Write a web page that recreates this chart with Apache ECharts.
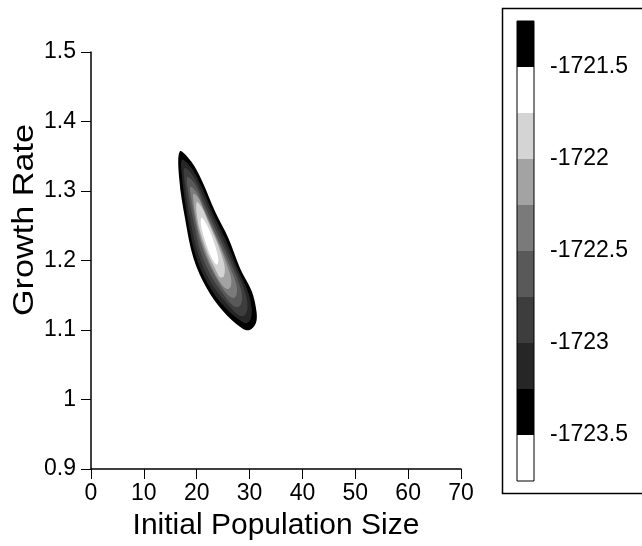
<!DOCTYPE html>
<html>
<head>
<meta charset="utf-8">
<script src="https://cdn.jsdelivr.net/npm/echarts@6/dist/echarts.min.js"></script>
<style>html,body{margin:0;padding:0;background:#fff;}#c{width:642px;height:546px;}</style>
</head>
<body>
<div id="c"></div>
<script>
// ---- Data ----
const xTitle = 'Initial Population Size';
const yTitle = 'Growth Rate';
// contour levels (outer -> inner)
const levels = [-1723.5, -1723.25, -1723, -1722.75, -1722.5, -1722.25, -1722, -1721.75];
// contour outlines [initial population size, growth rate]
const c_1723_50 = [[16.8,1.357],[19.0,1.342],[21.1,1.313],[23.5,1.270],[26.0,1.232],[28.2,1.189],[30.4,1.156],[31.3,1.127],[31.2,1.110],[30.0,1.100],[28.5,1.103],[25.0,1.127],[21.9,1.160],[19.4,1.203],[17.8,1.260],[16.7,1.317]];
const c_1723_25 = [[17.2,1.345],[19.0,1.333],[20.9,1.306],[23.2,1.266],[25.6,1.228],[27.8,1.187],[29.7,1.155],[30.4,1.130],[30.1,1.114],[29.0,1.110],[25.3,1.133],[22.2,1.165],[19.8,1.207],[18.3,1.260],[17.3,1.315]];
const c_1723_00 = [[17.7,1.333],[19.3,1.322],[21.0,1.296],[23.1,1.260],[25.3,1.224],[27.3,1.189],[29.0,1.158],[29.6,1.137],[29.2,1.122],[28.0,1.121],[25.4,1.141],[22.6,1.169],[20.3,1.209],[18.8,1.258],[17.8,1.307]];
const c_1722_75 = [[18.2,1.320],[19.6,1.311],[21.1,1.286],[23.0,1.254],[25.0,1.221],[26.8,1.190],[28.2,1.163],[28.6,1.146],[28.1,1.134],[26.9,1.135],[24.9,1.153],[22.8,1.177],[20.8,1.211],[19.4,1.256],[18.4,1.298]];
const c_1722_50 = [[18.8,1.306],[20.0,1.298],[21.3,1.276],[22.9,1.249],[24.6,1.220],[26.2,1.192],[27.4,1.168],[27.6,1.153],[27.0,1.146],[25.8,1.151],[24.2,1.168],[22.5,1.192],[20.9,1.222],[19.8,1.255],[19.0,1.288]];
const c_1722_25 = [[19.4,1.296],[20.4,1.289],[21.6,1.268],[23.0,1.244],[24.5,1.218],[25.7,1.194],[26.5,1.174],[26.4,1.162],[25.7,1.159],[24.5,1.168],[23.0,1.188],[21.6,1.213],[20.4,1.242],[19.7,1.268],[19.4,1.285]];
const c_1722_00 = [[20.0,1.284],[21.0,1.276],[22.1,1.257],[23.4,1.234],[24.6,1.210],[25.3,1.190],[25.1,1.177],[24.4,1.176],[23.4,1.190],[22.0,1.212],[20.8,1.238],[20.1,1.262]];
const c_1721_75 = [[20.9,1.262],[21.8,1.253],[22.8,1.236],[23.7,1.216],[24.1,1.200],[23.8,1.194],[23.1,1.200],[22.1,1.217],[21.2,1.238],[20.8,1.252]];
const contours = [c_1723_50, c_1723_25, c_1723_00, c_1722_75, c_1722_50, c_1722_25, c_1722_00, c_1721_75];
// colour bar
const barBounds = [-1723.75, -1723.5, -1723.25, -1723, -1722.75, -1722.5, -1722.25, -1722, -1721.75, -1721.5, -1721.25];
const barColors = ['#ffffff', '#000000', '#262626', '#3d3d3d', '#595959', '#7a7a7a', '#a3a3a3', '#d4d4d4', '#ffffff', '#000000'];
const barTickLabels = [-1723.5, -1723, -1722.5, -1722, -1721.5];

// ---- Chart ----
const FONT = '"Liberation Sans", Arial, Helvetica, sans-serif';
function colorForLevel(l) {
  for (let i = 0; i < barColors.length; i++) {
    if (Math.abs(barBounds[i] - l) < 1e-9) return barColors[i];
  }
  return '#000';
}
const chart = echarts.init(document.getElementById('c'), null, {renderer: 'canvas'});
const option = {
  backgroundColor: '#fff',
  animation: false,
  grid: [
    {left: 91, right: 181, top: 52, bottom: 73.5, containLabel: false},
    {left: 517, width: 17, top: 21, bottom: 65, containLabel: false}
  ],
  xAxis: [
    {
      gridIndex: 0, type: 'value', min: 0, max: 70, interval: 10,
      name: xTitle, nameLocation: 'middle', nameGap: 42,
      nameTextStyle: {fontFamily: FONT, fontSize: 30, color: '#000'},
      axisLine: {show: true, onZero: false, lineStyle: {color: '#000', width: 1.5}},
      axisTick: {show: true, inside: false, length: 10, lineStyle: {color: '#000', width: 1}},
      axisLabel: {fontFamily: FONT, fontSize: 23, color: '#000', margin: 13},
      splitLine: {show: false}
    },
    {gridIndex: 1, type: 'value', min: 0, max: 1, show: false}
  ],
  yAxis: [
    {
      gridIndex: 0, type: 'value', min: 0.9, max: 1.5, interval: 0.1,
      axisLine: {show: true, onZero: false, lineStyle: {color: '#000', width: 1.5}},
      axisTick: {show: true, inside: false, length: 10, lineStyle: {color: '#000', width: 1}},
      axisLabel: {fontFamily: FONT, fontSize: 23, color: '#000', margin: 15,
        formatter: v => String(Math.round(v * 10) / 10)},
      splitLine: {show: false}
    },
    {
      gridIndex: 1, type: 'value', position: 'right',
      min: barBounds[0], max: barBounds[barBounds.length - 1], interval: 0.25,
      axisLine: {show: false}, axisTick: {show: false}, splitLine: {show: false},
      axisLabel: {
        fontFamily: FONT, fontSize: 23, color: '#000', margin: 16,
        padding: [6, 0, 0, 0],
        showMinLabel: true, showMaxLabel: true,
        formatter: v => {
          for (const t of barTickLabels) if (Math.abs(t - v) < 1e-6) return String(t);
          return '';
        }
      }
    }
  ],
  graphic: [
    {type: 'rect', shape: {x: 502.5, y: 8.5, width: 300, height: 485}, style: {fill: 'none', stroke: '#000', lineWidth: 1.5}, z: 0},
    {type: 'text', x: 25, y: 220, rotation: Math.PI / 2, scaleX: 1.18,
     style: {text: yTitle, font: '29px ' + FONT, fill: '#000', align: 'center', verticalAlign: 'middle'}}
  ],
  series: [
    {
      type: 'custom', xAxisIndex: 0, yAxisIndex: 0, clip: false,
      data: levels.map((l, i) => [i]),
      encode: {x: 0},
      renderItem: function (params, api) {
        const i = params.dataIndex;
        const pts = contours[i].map(p => api.coord(p));
        return {type: 'polygon', shape: {points: pts, smooth: 0.35},
          style: {fill: colorForLevel(levels[i]), stroke: null}};
      }
    },
    {
      type: 'custom', xAxisIndex: 1, yAxisIndex: 1, clip: false,
      data: barColors.map((c, i) => [0, barBounds[i], barBounds[i + 1]]),
      encode: {x: 0, y: [1, 2]},
      renderItem: function (params, api) {
        const i = params.dataIndex;
        const p1 = api.coord([0, barBounds[i + 1]]);
        const p2 = api.coord([1, barBounds[i]]);
        return {type: 'rect', shape: {x: p1[0], y: p1[1], width: p2[0] - p1[0], height: p2[1] - p1[1]},
          style: {fill: barColors[i], stroke: null}};
      }
    },
    {
      type: 'custom', xAxisIndex: 1, yAxisIndex: 1, clip: false, z: 5,
      data: [[0, barBounds[0], barBounds[barBounds.length - 1]]],
      encode: {x: 0, y: [1, 2]},
      renderItem: function (params, api) {
        const p1 = api.coord([0, barBounds[barBounds.length - 1]]);
        const p2 = api.coord([1, barBounds[0]]);
        return {type: 'rect', shape: {x: p1[0], y: p1[1], width: p2[0] - p1[0], height: p2[1] - p1[1]},
          style: {fill: 'none', stroke: '#000', lineWidth: 1}};
      }
    }
  ]
};
chart.setOption(option);
</script>
</body>
</html>
